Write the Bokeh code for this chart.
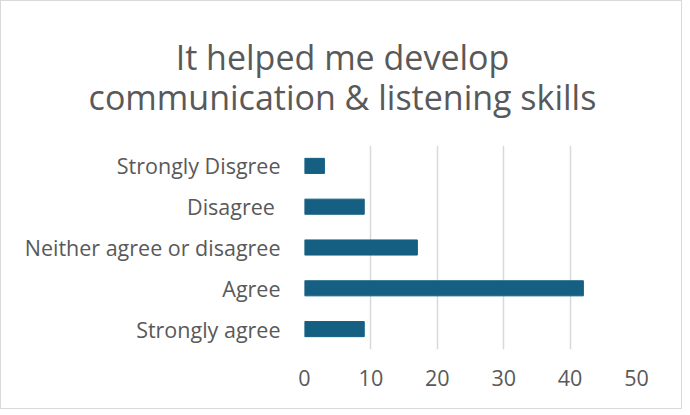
from bokeh.plotting import figure
from bokeh.layouts import column
from bokeh.models import FixedTicker
from bokeh.core.properties import value
from bokeh.embed import file_html
from bokeh.resources import INLINE

title_lines = ["It helped me develop", "communication & listening skills"]
categories = ["Strongly Disgree", "Disagree ", "Neither agree or disagree", "Agree", "Strongly agree"]
counts = [3, 9, 17, 42, 9]
x_ticks = [0, 10, 20, 30, 40, 50]

TEXT = "#595959"
GRID = "#d9d9d9"
BAR = "#156082"
FONT = "Open Sans"

W = 680
TITLE_H = 144
CHART_H = 407 - TITLE_H

# --- title band: a blank figure in pixel coordinates (y runs downward)
pt = figure(width=W, height=TITLE_H, x_range=(0, W), y_range=(TITLE_H, 0),
            x_axis_type=None, y_axis_type=None, output_backend="svg",
            toolbar_location=None, min_border=0)
pt.grid.visible = False
pt.outline_line_color = None
pt.text(x=[W / 2 + 1] * len(title_lines), y=[55, 95], text=title_lines,
        text_align="center", text_baseline="alphabetic", text_font=value(FONT),
        text_font_size="34px", text_color=TEXT)

# --- bar chart
factors = list(reversed(categories))
p = figure(width=W, height=CHART_H, y_range=factors, x_range=(0, 50),
           output_backend="svg", toolbar_location=None,
           min_border_left=303, min_border_right=45, min_border_bottom=59, min_border_top=0)
p.hbar(y=categories, right=counts, height=0.37, fill_color=BAR, line_color=BAR)

p.outline_line_color = None
p.ygrid.grid_line_color = None
p.xgrid.grid_line_color = GRID
p.xgrid.grid_line_width = 1.5
p.xaxis.ticker = FixedTicker(ticks=x_ticks)

for ax in (p.xaxis, p.yaxis):
    ax.axis_line_color = None
    ax.major_tick_line_color = None
    ax.minor_tick_line_color = None
    ax.major_label_text_font = FONT
    ax.major_label_text_font_size = "21.5px"
    ax.major_label_text_color = TEXT
p.xaxis.major_label_standoff = 14
p.yaxis.major_label_standoff = 18

# do not let the column align the two plot frames
for fig in (pt, p):
    if "frame_align" in fig.properties():
        fig.frame_align = False

layout = column(pt, p, spacing=0)
layout.styles = {"border": "1px solid #d9d9d9", "box-sizing": "border-box"}

open("out.html", "w").write(file_html(layout, INLINE))
